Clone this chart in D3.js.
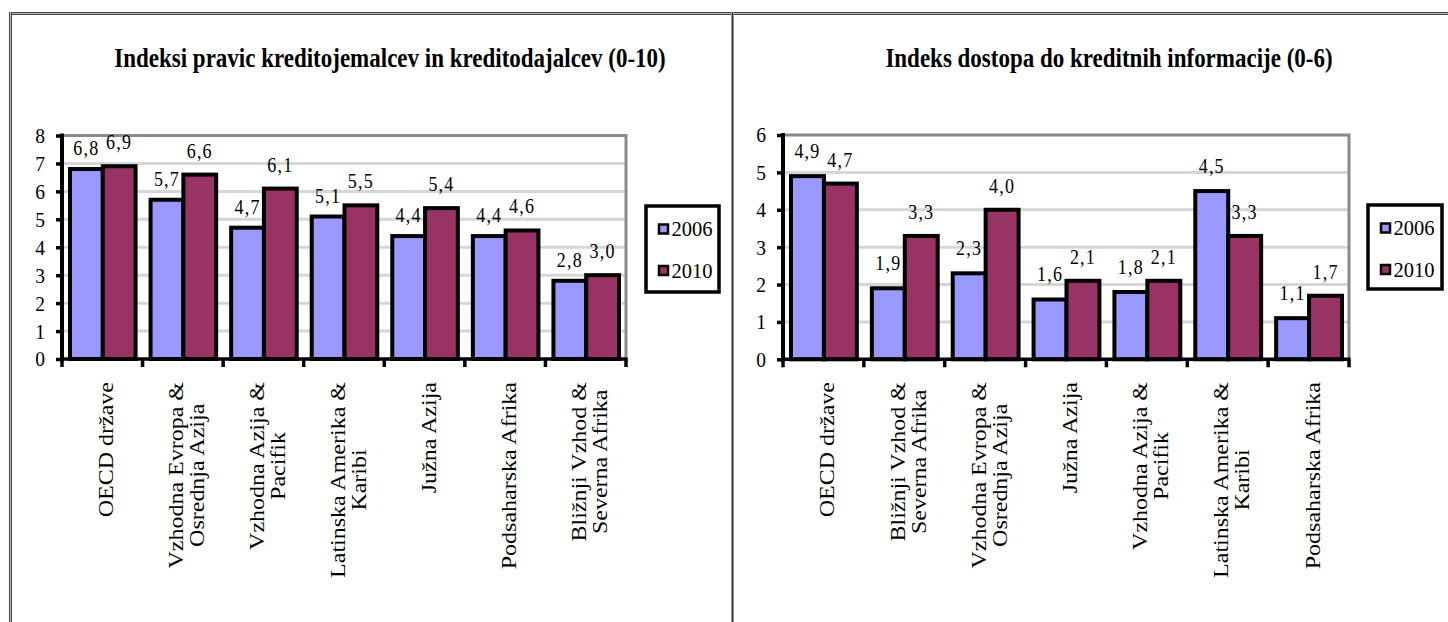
<!DOCTYPE html>
<html>
<head>
<meta charset="utf-8">
<script src="https://cdn.jsdelivr.net/npm/d3@7"></script>
<style>
  body { margin: 0; background: #fff; }
  svg { display: block; }
  svg text { font-family: "Liberation Serif", "Times New Roman", "DejaVu Serif", serif; fill: #000; }
</style>
</head>
<body>
<svg id="chart" width="1448" height="622"></svg>
<script>
// Series shared by both panels
const seriesNames = ["2006", "2010"];
const seriesColors = ["#9999ff", "#993366"];

// Panel 1: legal rights index (0-10)
const rightsTitle = "Indeksi pravic kreditojemalcev in kreditodajalcev (0-10)";
const rightsCategories = [
  "OECD države",
  "Vzhodna Evropa & Osrednja Azija",
  "Vzhodna Azija & Pacifik",
  "Latinska Amerika & Karibi",
  "Južna Azija",
  "Podsaharska Afrika",
  "Bližnji Vzhod & Severna Afrika"
];
const rights2006 = [6.8, 5.7, 4.7, 5.1, 4.4, 4.4, 2.8];
const rights2010 = [6.9, 6.6, 6.1, 5.5, 5.4, 4.6, 3.0];
const rightsTicks = [0, 1, 2, 3, 4, 5, 6, 7, 8];

// Panel 2: credit information index (0-6)
const infoTitle = "Indeks dostopa do kreditnih informacije (0-6)";
const infoCategories = [
  "OECD države",
  "Bližnji Vzhod & Severna Afrika",
  "Vzhodna Evropa & Osrednja Azija",
  "Južna Azija",
  "Vzhodna Azija & Pacifik",
  "Latinska Amerika & Karibi",
  "Podsaharska Afrika"
];
const info2006 = [4.9, 1.9, 2.3, 1.6, 1.8, 4.5, 1.1];
const info2010 = [4.7, 3.3, 4.0, 2.1, 2.1, 3.3, 1.7];
const infoTicks = [0, 1, 2, 3, 4, 5, 6];

const FONT = "Liberation Serif";
const svg = d3.select("#chart");
const slFormat = d3.formatLocale({ decimal: ",", thousands: ".", grouping: [3], currency: ["", " €"] }).format(".1f");

// Page frame: double rule on top and left, divider between panels
const frame = svg.append("g").attr("fill", "none");
[[12.5, "#444"], [14.5, "#444"], [13.5, "#bbb"]].forEach(d =>
  frame.append("line").attr("x1", 9).attr("y1", d[0]).attr("x2", 1448).attr("y2", d[0]).attr("stroke", d[1]));
[[9.5, "#444"], [11.5, "#444"], [10.5, "#bbb"]].forEach(d =>
  frame.append("line").attr("x1", d[0]).attr("y1", 12).attr("x2", d[0]).attr("y2", 622).attr("stroke", d[1]));
[[731.5, "#999"], [732.5, "#333"], [733.5, "#999"]].forEach(d =>
  frame.append("line").attr("x1", d[0]).attr("y1", 12).attr("x2", d[0]).attr("y2", 622).attr("stroke", d[1]));

function drawPanel(cfg) {
  const g = svg.append("g");
  const data = cfg.categories.map((c, i) => ({ cat: c, values: [cfg.s2006[i], cfg.s2010[i]] }));

  const x0 = d3.scaleBand().domain(cfg.categories).range([cfg.left, cfg.right]).paddingInner(0).paddingOuter(0);
  const bw = x0.bandwidth();
  const x1 = d3.scaleBand().domain(seriesNames).range([8, bw - 7]).padding(0);
  const y = d3.scaleLinear().domain([0, d3.max(cfg.ticks)]).range([cfg.bottom, cfg.top]);

  // Title (tall, narrow serif bold)
  g.append("text")
    .attr("transform", `translate(${cfg.titleX},67) scale(1,1.2)`)
    .attr("text-anchor", "middle")
    .attr("font-family", FONT)
    .attr("font-weight", "bold")
    .attr("font-size", 23)
    .text(cfg.title);

  // Horizontal gridlines
  g.append("g").selectAll("line")
    .data(cfg.ticks.filter(t => t > 0 && t < d3.max(cfg.ticks)))
    .join("line")
    .attr("x1", cfg.left).attr("x2", cfg.right)
    .attr("y1", d => y(d)).attr("y2", d => y(d))
    .attr("stroke", "#d6d6d6").attr("stroke-width", 3);

  // Plot area border (top and right)
  g.append("path")
    .attr("d", `M${cfg.left},${y(d3.max(cfg.ticks))}H${cfg.right}V${cfg.bottom}`)
    .attr("fill", "none").attr("stroke", "#8a8a8a").attr("stroke-width", 3);

  // Bars
  const groups = g.append("g").selectAll("g")
    .data(data).join("g")
    .attr("transform", d => `translate(${x0(d.cat)},0)`);
  groups.selectAll("rect")
    .data(d => d.values.map((v, i) => ({ key: seriesNames[i], v, i })))
    .join("rect")
    .attr("x", d => x1(d.key))
    .attr("width", x1.bandwidth())
    .attr("y", d => y(d.v))
    .attr("height", d => y(0) - y(d.v))
    .attr("fill", d => seriesColors[d.i])
    .attr("stroke", "#000").attr("stroke-width", 4)
    .attr("stroke-linejoin", "miter");

  // Value labels
  groups.selectAll("text")
    .data(d => d.values.map((v, i) => ({ key: seriesNames[i], v, i })))
    .join("text")
    .attr("transform", d => `translate(${x1(d.key) + x1.bandwidth() / 2},${y(d.v) - cfg.labelOffset[d.i]}) scale(1,1.12)`)
    .attr("text-anchor", "middle")
    .attr("font-family", FONT)
    .attr("font-size", 18)
    .attr("letter-spacing", 1.2)
    .text(d => slFormat(d.v));

  // Y axis
  const yAxis = d3.axisLeft(y).tickValues(cfg.ticks).tickSize(6).tickPadding(11).tickFormat(d3.format("d"));
  const ya = g.append("g").attr("transform", `translate(${cfg.left},0)`).call(yAxis);
  ya.attr("font-family", FONT);
  ya.select(".domain").attr("stroke", "#000").attr("stroke-width", 4)
    .attr("d", `M0,${cfg.top - 2}V${cfg.bottom + 2}`);
  ya.selectAll(".tick line").attr("stroke", "#000").attr("stroke-width", 3.5);
  ya.selectAll(".tick text")
    .attr("font-size", 19.5).attr("font-family", FONT).attr("fill", "#000")
    .attr("transform", "scale(1,1.12)");

  // X axis: ticks at category boundaries
  const boundaries = cfg.categories.map(c => x0(c)).concat([cfg.right]);
  const xa = g.append("g");
  xa.append("line")
    .attr("x1", cfg.left - 2).attr("x2", cfg.right + 1.5)
    .attr("y1", cfg.bottom).attr("y2", cfg.bottom)
    .attr("stroke", "#000").attr("stroke-width", 3.5);
  xa.selectAll("line.tk").data(boundaries).join("line").attr("class", "tk")
    .attr("x1", d => d).attr("x2", d => d)
    .attr("y1", cfg.bottom).attr("y2", cfg.bottom + 8)
    .attr("stroke", "#000").attr("stroke-width", 3.5);

  // Rotated category labels, wrapped after "&", lines centred on each other
  const lineGap = 21, stretch = 1.2, labelTop = 382;
  cfg.categories.forEach(c => {
    const lines = c.includes("&") ? [c.slice(0, c.indexOf("&") + 1), c.slice(c.indexOf("&") + 1).trim()] : [c];
    const cx = x0(c) + bw / 2;
    const firstBase = cx + 11 - (lines.length - 1) * lineGap / 2;
    const nodes = lines.map(ln => g.append("text")
      .attr("font-family", FONT)
      .attr("font-size", 20)
      .attr("text-anchor", "middle")
      .text(ln));
    const maxLen = d3.max(nodes, n => n.node().getComputedTextLength()) * stretch;
    nodes.forEach((n, i) => n.attr("transform",
      `translate(${firstBase + i * lineGap},${labelTop + maxLen / 2}) scale(1,${stretch}) rotate(-90)`));
  });

  // Legend
  const lg = g.append("g").attr("transform", `translate(${cfg.legend[0]},${cfg.legend[1]})`);
  lg.append("rect").attr("width", cfg.legend[2]).attr("height", cfg.legend[3])
    .attr("fill", "#fff").attr("stroke", "#000").attr("stroke-width", 3.5);
  seriesNames.forEach((s, i) => {
    const cy = 23 + i * 41.5;
    lg.append("rect").attr("x", 13).attr("y", cy - 4.5).attr("width", 9).attr("height", 9)
      .attr("fill", seriesColors[i]).attr("stroke", "#000").attr("stroke-width", 2.5);
    lg.append("text").attr("x", 25.5).attr("y", cy).attr("dy", "0.35em")
      .attr("font-family", FONT)
      .attr("font-size", 20.5).text(s);
  });
}

drawPanel({
  title: rightsTitle, categories: rightsCategories, s2006: rights2006, s2010: rights2010, ticks: rightsTicks,
  left: 62, right: 626, top: 135.5, bottom: 359, titleX: 390,
  labelOffset: [14, 17], legend: [646, 206, 73, 86]
});
drawPanel({
  title: infoTitle, categories: infoCategories, s2006: info2006, s2010: info2010, ticks: infoTicks,
  left: 783, right: 1349, top: 135, bottom: 359.3, titleX: 1109,
  labelOffset: [18, 17], legend: [1368, 205, 74, 84]
});
</script>
</body>
</html>
